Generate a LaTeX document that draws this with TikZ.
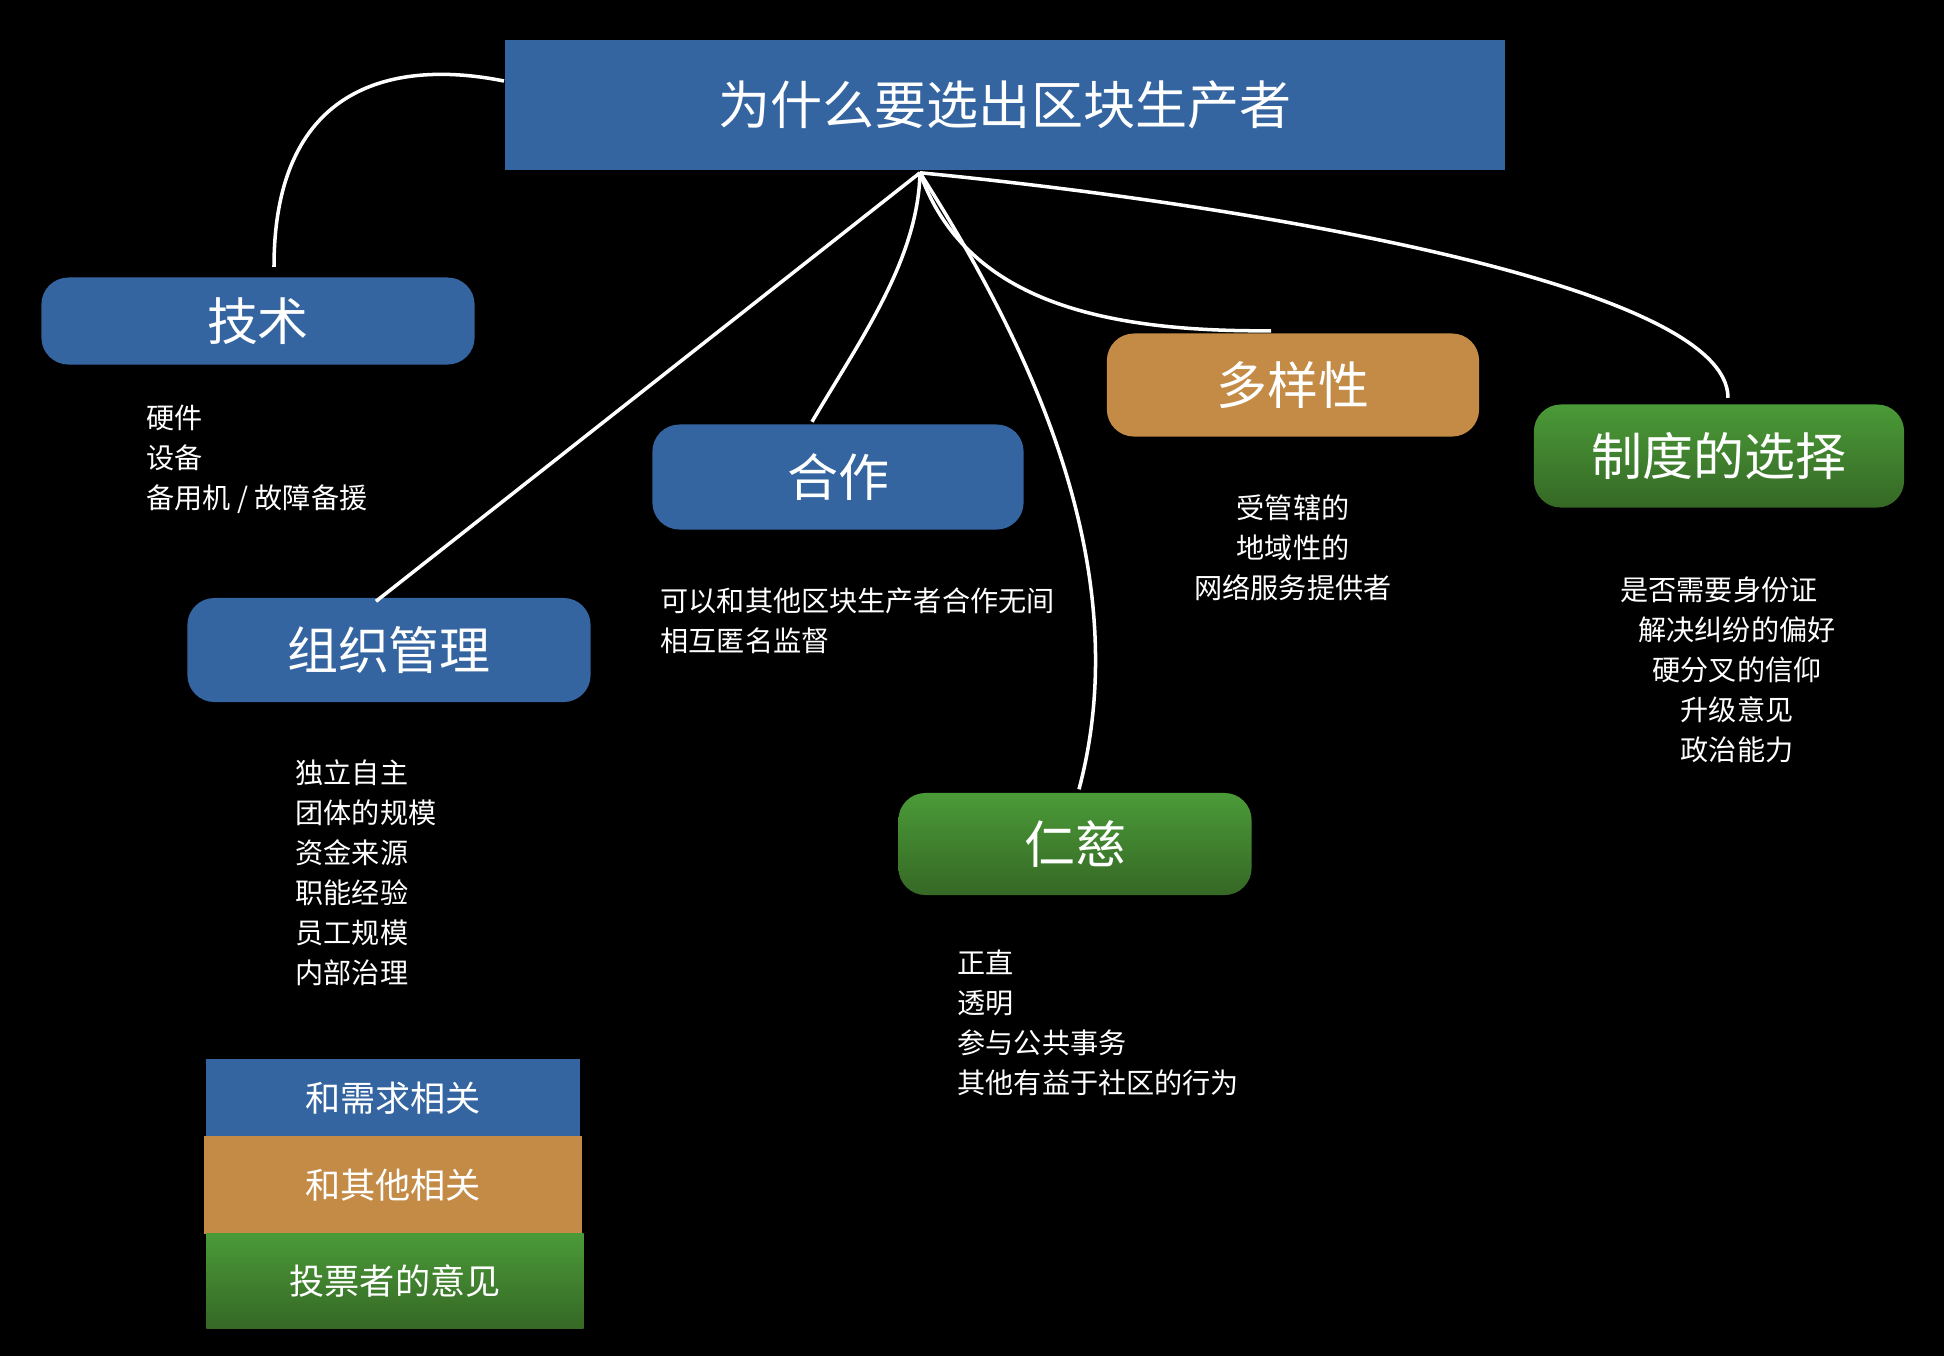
\documentclass[tikz,border=0pt]{standalone}
\usepackage{fontspec}
\newfontfamily\cjk{Noto Sans CJK SC}
\usetikzlibrary{positioning,calc}
\definecolor{needblue}{RGB}{52,101,160}
\definecolor{otherbrown}{RGB}{195,139,70}
\definecolor{votegreenhi}{RGB}{75,154,56}
\definecolor{votegreenlo}{RGB}{53,104,37}

\begin{document}
\begin{tikzpicture}[x=0.01cm, y=-0.01cm, font=\cjk,
  topic/.style={rounded corners=0.27cm, text=white, inner sep=0pt,
    font=\cjk\fontsize{14.5}{17}\selectfont},
  needbox/.style={topic, fill=needblue},
  otherbox/.style={topic, fill=otherbrown},
  votebox/.style={topic, top color=votegreenhi, bottom color=votegreenlo},
  legend/.style={text=white, inner sep=0pt, font=\cjk\fontsize{10}{12}\selectfont},
  item/.style={text=white, inner sep=0pt, font=\cjk\fontsize{8}{11}\selectfont},
  link/.style={draw=white, line width=1pt}]
  % background
  \fill[black] (0,0) rectangle (1944,1356);

  % title and topics
  \node[needbox, sharp corners, minimum width=10cm, minimum height=1.3cm,
    font=\cjk\fontsize{14.8}{18}\selectfont] (title) at (1005,105) {为什么要选出区块生产者};
  \node[needbox, minimum width=4.33cm, minimum height=0.87cm] (tech) at (258,321) {技术};
  \node[needbox, minimum width=4.03cm, minimum height=1.04cm] (org) at (389,650) {组织管理};
  \node[needbox, minimum width=3.71cm, minimum height=1.05cm] (coop) at (838,477) {合作};
  \node[otherbox, minimum width=3.72cm, minimum height=1.03cm] (div) at (1293,385) {多样性};
  \node[votebox, minimum width=3.70cm, minimum height=1.03cm] (inst) at (1719,456) {制度的选择};
  \node[votebox, minimum width=3.53cm, minimum height=1.02cm] (benev) at (1075,844) {仁慈};

  % details under each topic
  \foreach \t [count=\i] in {硬件,设备,备用机 / 故障备援}
    \node[item, anchor=base west] (techitem\i) at (146,388+40*\i) {\t};
  \foreach \t [count=\i] in {独立自主,团体的规模,资金来源,职能经验,员工规模,内部治理}
    \node[item, anchor=base west] (orgitem\i) at (295,743+40*\i) {\t};
  \foreach \t [count=\i] in {可以和其他区块生产者合作无间,相互匿名监督}
    \node[item, anchor=base west] (coopitem\i) at (660,571+40*\i) {\t};
  \foreach \t [count=\i] in {受管辖的,地域性的,网络服务提供者}
    \node[item, anchor=base] (divitem\i) at (1293,478+40*\i) {\t};
  \foreach \x/\t [count=\i] in {1719/是否需要身份证,1737/解决纠纷的偏好,1737/硬分叉的信仰,1737/升级意见,1737/政治能力}
    \node[item, anchor=base] (institem\i) at (\x,560+40*\i) {\t};
  \foreach \t [count=\i] in {正直,透明,参与公共事务,其他有益于社区的行为}
    \node[item, anchor=base west] (benevitem\i) at (957,933+40*\i) {\t};

  % legend
  \node[legend, fill=needblue, minimum width=3.73cm, minimum height=0.78cm] (legneed) at (393,1098) {和需求相关};
  \node[legend, fill=otherbrown, minimum width=3.77cm, minimum height=0.97cm] (legother) at (393,1185) {和其他相关};
  \node[legend, top color=votegreenhi, bottom color=votegreenlo, minimum width=3.77cm,
    minimum height=0.95cm] (legvote) at (395,1281) {投票者的意见};

  % connectors
  \coordinate (hub) at ($(title.south)+(-85,2)$);
  \coordinate (titleleft) at ($(title.west)+(0,-24)$);
  \coordinate (techtop) at ($(tech.north)+(16,-10)$);
  \coordinate (orgtop) at ($(org.north)+(-13,4)$);
  \coordinate (cooptop) at ($(coop.north)+(-26,-2)$);
  \coordinate (divtop) at ($(div.north)+(-22,-2)$);
  \coordinate (insttop) at ($(inst.north)+(9,-6)$);
  \coordinate (benevtop) at ($(benev.north)+(4,-3)$);
  \draw[link] (titleleft) .. controls (400,60) and (274,80) .. (techtop);
  \draw[link] (hub) -- (orgtop);
  \draw[link] (hub) .. controls (918,260) and (860,340) .. (cooptop);
  \draw[link] (hub) .. controls (965,300) and (1100,332) .. (divtop);
  \draw[link] (hub) .. controls (1250,205) and (1728,285) .. (insttop);
  \draw[link] (hub) .. controls (1020,330) and (1140,560) .. (benevtop);
\end{tikzpicture}
\end{document}
